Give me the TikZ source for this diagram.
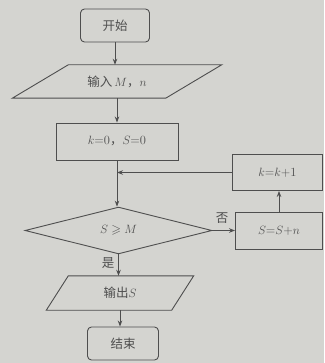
\documentclass[tikz,border=0pt]{standalone}
\usepackage{amssymb}
\usepackage{fontspec}
\newfontfamily\cjk{Noto Sans CJK SC}
\usetikzlibrary{shapes.geometric,arrows.meta}
\definecolor{bg}{HTML}{D4D4D0}
\definecolor{ink}{HTML}{4E4E4E}
\tikzset{
  txt/.style={text=ink, font=\fontsize{12.5}{14}\selectfont, inner sep=0pt},
  boxed/.style={txt, draw=ink, line width=0.9pt},
  termbox/.style={boxed, rounded corners=4pt},
  iobox/.style={txt},
  decbox/.style={boxed, diamond},
  edge/.style={draw=ink, line width=0.9pt},
  arr/.style={edge, -{Stealth[length=6pt,width=4.5pt]}}
}
\begin{document}
\begin{tikzpicture}[x=1pt,y=-1pt]
\fill[bg] (0,0) rectangle (324,363);
\useasboundingbox (0,0) rectangle (324,363);

\node[termbox, minimum width=69pt, minimum height=33pt] (start) at (115,25.5) {\cjk 开始};
\node[iobox, minimum width=153pt, minimum height=33pt] (inp) at (117,81.5) {\cjk 输入\,$M$，$n$};
\draw[edge] ([xshift=28pt]inp.north west) -- ([xshift=28pt]inp.north east) -- ([xshift=-28pt]inp.south east) -- ([xshift=-28pt]inp.south west) -- cycle;
\node[boxed, minimum width=122pt, minimum height=37pt] (init) at (117,141.5) {$k$=0{\cjk ，}$S$=0};
\coordinate (merge) at (117,172.5);
\node[decbox, minimum width=187pt, minimum height=43pt] (cond) at (118.5,230.5) {$S\geqslant M$};
\node[boxed, minimum width=87pt, minimum height=37pt] (add) at (279,231) {$S$=$S$+$n$};
\node[boxed, minimum width=90pt, minimum height=36pt] (inc) at (277.5,172.5) {$k$=$k$+1};
\node[iobox, minimum width=125pt, minimum height=34pt] (out) at (120,293) {\cjk 输出$S$};
\draw[edge] ([xshift=11pt]out.north west) -- ([xshift=11pt]out.north east) -- ([xshift=-11pt]out.south east) -- ([xshift=-11pt]out.south west) -- cycle;
\node[termbox, minimum width=71pt, minimum height=33pt] (end) at (123,343.5) {\cjk 结束};

\draw[arr] (start.south) -- (start.south |- inp.north);
\draw[arr] (inp.south) -- (inp.south |- init.north);
\draw[edge] (init.south) -- (merge);
\draw[arr] (merge) -- (merge |- cond.north);
\draw[arr] (cond.east) -- (cond.east -| add.west);
\draw[arr] (add.north) -- (add.north |- inc.south);
\draw[arr] (inc.west) -- (merge);
\draw[arr] (cond.south) -- (cond.south |- out.north);
\draw[arr] (out.south) -- (out.south |- end.north);

\node[txt] (no) at (222,218) {\cjk 否};
\node[txt] (yes) at (108,263) {\cjk 是};
\end{tikzpicture}
\end{document}
